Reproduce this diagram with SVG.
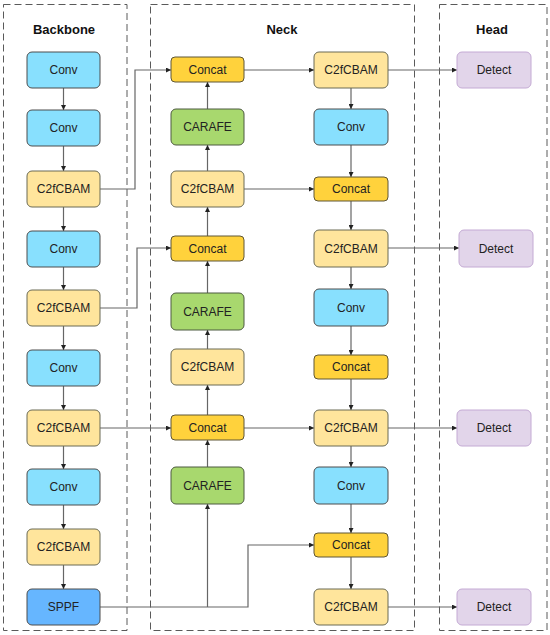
<svg xmlns="http://www.w3.org/2000/svg" width="550" height="635" viewBox="0 0 550 635">
<style>
.frame{fill:none;stroke:#5a5a5a;stroke-width:1;stroke-dasharray:7,4}
.title{font-family:"Liberation Sans",Arial,sans-serif;font-size:13px;font-weight:bold;fill:#111;text-anchor:middle}
.lbl{font-family:"Liberation Sans",Arial,sans-serif;font-size:12px;fill:#222;text-anchor:middle;dominant-baseline:central}
.conv{fill:#88E0FE;stroke:#4d4d4d;stroke-width:1}
.c2f{fill:#FFE59C;stroke:#6b6b55;stroke-width:1}
.cat{fill:#FFD23C;stroke:#5e5636;stroke-width:1}
.car{fill:#A8D86E;stroke:#4d5a40;stroke-width:1}
.sppf{fill:#66B6FF;stroke:#4d4d4d;stroke-width:1}
.det{fill:#E2D5EA;stroke:#C4AAD4;stroke-width:1}
.ln{fill:none;stroke:#666;stroke-width:1.2}
</style>
<defs>
<marker id="ah" viewBox="0 0 10 10" refX="10" refY="5" markerWidth="5" markerHeight="5" orient="auto" markerUnits="userSpaceOnUse">
<path d="M0,0 L10,5 L0,10 z" fill="#222"/>
</marker>
</defs>
<g id="frames">
<rect class="frame" x="3.5" y="4.5" width="123.5" height="626"/>
<rect class="frame" x="150.5" y="4.5" width="264" height="626"/>
<rect class="frame" x="439.5" y="4.5" width="107.5" height="626"/>
<text class="title" x="64" y="34">Backbone</text>
<text class="title" x="282" y="34">Neck</text>
<text class="title" x="492" y="34">Head</text>
</g>
<g id="connectors" marker-end="url(#ah)">
<!-- backbone -->
<path class="ln" d="M63.5,88 V110"/>
<path class="ln" d="M63.5,146 V171"/>
<path class="ln" d="M63.5,207 V231"/>
<path class="ln" d="M63.5,267 V290"/>
<path class="ln" d="M63.5,326 V350"/>
<path class="ln" d="M63.5,386 V410"/>
<path class="ln" d="M63.5,446 V469"/>
<path class="ln" d="M63.5,505 V529"/>
<path class="ln" d="M63.5,565 V589"/>
<!-- backbone to neck -->
<path class="ln" d="M100,189 H135 V70 H171"/>
<path class="ln" d="M100,308 H137 V248 H171"/>
<path class="ln" d="M100,428 H171"/>
<path class="ln" d="M100,607 H248 V545 H314"/>
<path class="ln" d="M207.5,607 V504"/>
<!-- neck left column upward -->
<path class="ln" d="M207.5,467 V440"/>
<path class="ln" d="M207.5,415 V385"/>
<path class="ln" d="M207.5,349 V330"/>
<path class="ln" d="M207.5,293 V261"/>
<path class="ln" d="M207.5,236 V207"/>
<path class="ln" d="M207.5,171 V145"/>
<path class="ln" d="M207.5,109 V82"/>
<!-- left to right -->
<path class="ln" d="M244,70 H314"/>
<path class="ln" d="M244,189 H314"/>
<path class="ln" d="M244,428 H314"/>
<!-- right column downward -->
<path class="ln" d="M351,88 V109"/>
<path class="ln" d="M351,145 V177"/>
<path class="ln" d="M351,201 V230"/>
<path class="ln" d="M351,267 V289"/>
<path class="ln" d="M351,326 V355"/>
<path class="ln" d="M351,379 V410"/>
<path class="ln" d="M351,446 V467"/>
<path class="ln" d="M351,504 V533"/>
<path class="ln" d="M351,557 V589"/>
<!-- to detect -->
<path class="ln" d="M388,70 H457"/>
<path class="ln" d="M388,248 H459"/>
<path class="ln" d="M388,428 H457"/>
<path class="ln" d="M388,607 H457"/>
</g>
<g id="b1"><rect class="conv" x="27" y="52" width="73" height="36" rx="5"/><text class="lbl" x="63.5" y="70">Conv</text></g>
<g id="b2"><rect class="conv" x="27" y="110" width="73" height="36" rx="5"/><text class="lbl" x="63.5" y="128">Conv</text></g>
<g id="b3"><rect class="c2f" x="27" y="171" width="73" height="36" rx="5"/><text class="lbl" x="63.5" y="189">C2fCBAM</text></g>
<g id="b4"><rect class="conv" x="27" y="231" width="73" height="36" rx="5"/><text class="lbl" x="63.5" y="249">Conv</text></g>
<g id="b5"><rect class="c2f" x="27" y="290" width="73" height="36" rx="5"/><text class="lbl" x="63.5" y="308">C2fCBAM</text></g>
<g id="b6"><rect class="conv" x="27" y="350" width="73" height="36" rx="5"/><text class="lbl" x="63.5" y="368">Conv</text></g>
<g id="b7"><rect class="c2f" x="27" y="410" width="73" height="36" rx="5"/><text class="lbl" x="63.5" y="428">C2fCBAM</text></g>
<g id="b8"><rect class="conv" x="27" y="469" width="73" height="36" rx="5"/><text class="lbl" x="63.5" y="487">Conv</text></g>
<g id="b9"><rect class="c2f" x="27" y="529" width="73" height="36" rx="5"/><text class="lbl" x="63.5" y="547">C2fCBAM</text></g>
<g id="b10"><rect class="sppf" x="27" y="589" width="73" height="36" rx="5"/><text class="lbl" x="63.5" y="607">SPPF</text></g>
<g id="n1"><rect class="cat" x="171" y="57" width="73" height="25" rx="4"/><text class="lbl" x="207.5" y="69.5">Concat</text></g>
<g id="n2"><rect class="car" x="171" y="109" width="73" height="36" rx="5"/><text class="lbl" x="207.5" y="127">CARAFE</text></g>
<g id="n3"><rect class="c2f" x="171" y="171" width="73" height="36" rx="5"/><text class="lbl" x="207.5" y="189">C2fCBAM</text></g>
<g id="n4"><rect class="cat" x="171" y="236" width="73" height="25" rx="4"/><text class="lbl" x="207.5" y="248.5">Concat</text></g>
<g id="n5"><rect class="car" x="171" y="293" width="73" height="37" rx="5"/><text class="lbl" x="207.5" y="311.5">CARAFE</text></g>
<g id="n6"><rect class="c2f" x="171" y="349" width="73" height="36" rx="5"/><text class="lbl" x="207.5" y="367">C2fCBAM</text></g>
<g id="n7"><rect class="cat" x="171" y="415" width="73" height="25" rx="4"/><text class="lbl" x="207.5" y="427.5">Concat</text></g>
<g id="n8"><rect class="car" x="171" y="467" width="73" height="37" rx="5"/><text class="lbl" x="207.5" y="485.5">CARAFE</text></g>
<g id="r1"><rect class="c2f" x="314" y="52" width="74" height="36" rx="5"/><text class="lbl" x="351" y="70">C2fCBAM</text></g>
<g id="r2"><rect class="conv" x="314" y="109" width="74" height="36" rx="5"/><text class="lbl" x="351" y="127">Conv</text></g>
<g id="r3"><rect class="cat" x="314" y="177" width="74" height="24" rx="4"/><text class="lbl" x="351" y="189">Concat</text></g>
<g id="r4"><rect class="c2f" x="314" y="230" width="74" height="37" rx="5"/><text class="lbl" x="351" y="248.5">C2fCBAM</text></g>
<g id="r5"><rect class="conv" x="314" y="289" width="74" height="37" rx="5"/><text class="lbl" x="351" y="307.5">Conv</text></g>
<g id="r6"><rect class="cat" x="314" y="355" width="74" height="24" rx="4"/><text class="lbl" x="351" y="367">Concat</text></g>
<g id="r7"><rect class="c2f" x="314" y="410" width="74" height="36" rx="5"/><text class="lbl" x="351" y="428">C2fCBAM</text></g>
<g id="r8"><rect class="conv" x="314" y="467" width="74" height="37" rx="5"/><text class="lbl" x="351" y="485.5">Conv</text></g>
<g id="r9"><rect class="cat" x="314" y="533" width="74" height="24" rx="4"/><text class="lbl" x="351" y="545">Concat</text></g>
<g id="r10"><rect class="c2f" x="314" y="589" width="74" height="36" rx="5"/><text class="lbl" x="351" y="607">C2fCBAM</text></g>
<g id="h1"><rect class="det" x="457" y="52" width="74" height="36" rx="5"/><text class="lbl" x="494" y="70">Detect</text></g>
<g id="h2"><rect class="det" x="459" y="230" width="74" height="37" rx="5"/><text class="lbl" x="496" y="248.5">Detect</text></g>
<g id="h3"><rect class="det" x="457" y="410" width="74" height="36" rx="5"/><text class="lbl" x="494" y="428">Detect</text></g>
<g id="h4"><rect class="det" x="457" y="589" width="74" height="36" rx="5"/><text class="lbl" x="494" y="607">Detect</text></g>
</svg>
